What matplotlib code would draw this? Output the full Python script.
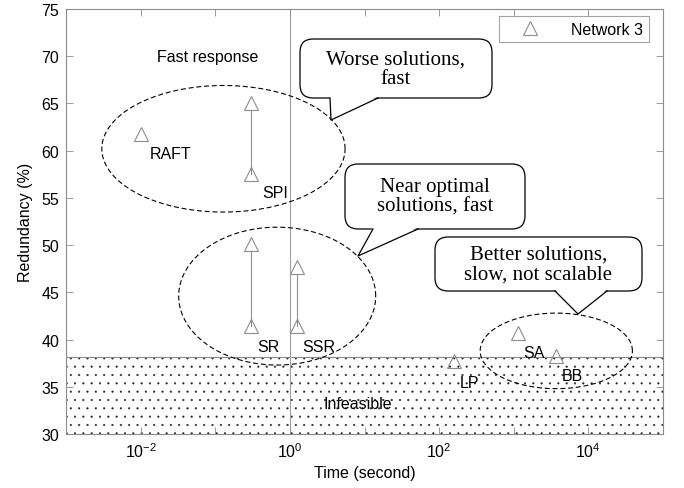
import numpy as np
import matplotlib
matplotlib.use('Agg')
import matplotlib.pyplot as plt
from matplotlib.patches import FancyBboxPatch, Polygon
from matplotlib.ticker import FixedLocator, FuncFormatter, NullLocator

plt.rcParams['font.family'] = ['Liberation Sans', 'DejaVu Sans']
plt.rcParams['mathtext.fontset'] = 'custom'
plt.rcParams['mathtext.rm'] = 'Liberation Sans'
plt.rcParams['mathtext.it'] = 'Liberation Sans:italic'
plt.rcParams['hatch.linewidth'] = 0.3

# data
methods = ['RAFT', 'SPI', 'SR', 'SSR', 'LP', 'SA', 'BB']
time_s = [0.01, 0.3, 0.3, 1.25, 160, 1150, 3700]
red_low = [61.8, 57.5, 41.4, 41.4, 37.7, 40.7, 38.3]
red_high = [None, 65.0, 50.1, 47.7, None, None, None]
infeasible_limit = 38.2

# ellipses: log10 centre, y centre, half width (decades), half height
ell_cx = [-0.89, -0.17, 3.57]
ell_cy = [60.2, 44.6, 38.8]
ell_a = [1.63, 1.32, 1.02]
ell_b = [6.7, 7.3, 4.0]

# speech bubbles (pixel positions in the 684x489 picture)
bubble_text = ['Worse solutions,\nfast', 'Near optimal\nsolutions, fast',
               'Better solutions,\nslow, not scalable']
bubble_box = [(300, 40, 492, 99), (345, 165, 525, 230), (435, 238, 642, 292)]
bubble_base = [(330, 378), (373, 418), (555, 607)]
bubble_tip = [(331, 121), (358, 257), (578, 315)]

fig = plt.figure(figsize=(6.84, 4.89), dpi=100)
AX_L, AX_R, AX_T, AX_B = 66, 663, 10, 435
ax = fig.add_axes([AX_L / 684, 1 - AX_B / 489, (AX_R - AX_L) / 684, (AX_B - AX_T) / 489])

def P(px, py):
    return ((px - AX_L) / (AX_R - AX_L), (AX_B - py) / (AX_B - AX_T))

gray = '#8c8c8c'
ax.set_xscale('log')
ax.set_xlim(1e-3, 1e5)
ax.set_ylim(30, 75)

ax.fill_between([1e-3, 1e5], 30, infeasible_limit, facecolor='white',
                edgecolor='#222222', hatch='..', linewidth=0, zorder=0)
ax.axhline(infeasible_limit, color=gray, lw=0.8, zorder=1)
ax.axvline(1, color='#a0a0a0', lw=0.8, zorder=1)

for t, lo, hi in zip(time_s, red_low, red_high):
    if hi is not None:
        ax.plot([t, t], [lo, hi], color=gray, lw=0.8, zorder=2)
        ax.plot([t], [hi], ls='none', marker='^', ms=10, mfc='white',
                mec=gray, mew=0.8, zorder=3)
ax.plot(time_s, red_low, ls='none', marker='^', ms=10, mfc='none',
        mec=gray, mew=0.8, zorder=3, label='Network 3')

label_off = [(30, -20), (24, -18), (18, -20), (22, -20), (15, -21), (16, -20), (16, -20)]
for m, t, lo, off in zip(methods, time_s, red_low, label_off):
    ax.annotate(m, (t, lo), xytext=off, textcoords='offset pixels',
                ha='center', va='center', fontsize=11.5, zorder=4)

th = np.linspace(0, 2 * np.pi, 400)
for cx, cy, a, b in zip(ell_cx, ell_cy, ell_a, ell_b):
    ax.plot(10 ** (cx + a * np.cos(th)), cy + b * np.sin(th), color='black',
            lw=0.8, ls=(0, (4.5, 2.5)), zorder=4)

ax.text(0.08, 70, 'Fast response', ha='center', va='center', fontsize=11.5)
ax.text(8.2, 33.2, 'Infeasible', ha='center', va='center', fontsize=11.5)

aspect = (AX_R - AX_L) / (AX_B - AX_T)
for txt, (x0, y0, x1, y1), (ba, bb), tip in zip(bubble_text, bubble_box,
                                                  bubble_base, bubble_tip):
    fx0, fy1 = P(x0, y1)
    fx1, fy0 = P(x1, y0)
    box = FancyBboxPatch((fx0, fy1), fx1 - fx0, fy0 - fy1,
                         boxstyle='round,pad=0,rounding_size=0.022',
                         mutation_aspect=aspect, transform=ax.transAxes,
                         fc='white', ec='black', lw=0.9, zorder=5, clip_on=False)
    ax.add_patch(box)
    pa = P(ba, y1 - 1.5)
    pb = P(bb, y1 - 1.5)
    pt = P(*tip)
    ax.add_patch(Polygon([pa, pt, pb], closed=True, fc='white', ec='none',
                         transform=ax.transAxes, zorder=6, clip_on=False))
    qa = P(ba, y1)
    qb = P(bb, y1)
    ax.plot([qa[0], pt[0], qb[0]], [qa[1], pt[1], qb[1]], color='black', lw=0.9,
            transform=ax.transAxes, zorder=7, clip_on=False)
    cx, cy = P((x0 + x1) / 2, (y0 + y1) / 2)
    ax.text(cx, cy, txt, transform=ax.transAxes, ha='center', va='center',
            family=['Liberation Serif', 'DejaVu Serif'], fontsize=15,
            linespacing=1.05, zorder=8)

ax.xaxis.set_major_locator(FixedLocator([10.0 ** k for k in range(-3, 6)]))
ax.xaxis.set_minor_locator(NullLocator())
ax.xaxis.set_major_formatter(FuncFormatter(
    lambda v, p: r'$\mathregular{10^{%d}}$' % round(np.log10(v)) if round(np.log10(v)) % 2 == 0
    and -3 < np.log10(v) < 5 else ''))
ax.set_yticks(np.arange(30, 76, 5))
ax.tick_params(direction='in', length=5, width=0.6, color=gray, top=True,
               right=True, labelsize=11.5, pad=5)
for s in ax.spines.values():
    s.set_color(gray)
    s.set_linewidth(0.8)

ax.set_xlabel('Time (second)', fontsize=11.5, labelpad=4)
ax.set_ylabel('Redundancy (%)', fontsize=11.5, labelpad=6)

leg = ax.legend(loc='upper right', bbox_to_anchor=P(649, 17), bbox_transform=ax.transAxes,
                borderaxespad=0, fancybox=False, fontsize=11.5, handlelength=3.2,
                handletextpad=1.0, borderpad=0.35)
leg.get_frame().set_edgecolor(gray)
leg.get_frame().set_linewidth(0.8)

fig.savefig('out.png', dpi=100)
